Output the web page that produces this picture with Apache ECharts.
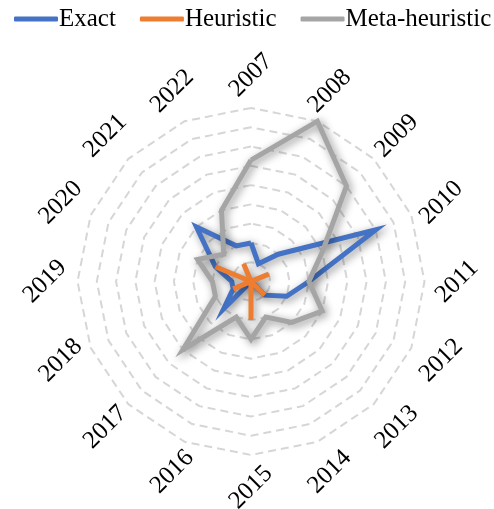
<!DOCTYPE html>
<html>
<head>
<meta charset="utf-8">
<script src="https://cdn.jsdelivr.net/npm/echarts@6/dist/echarts.min.js"></script>
<style>
html,body{margin:0;padding:0;background:#fff;}
#chart{width:494px;height:509px;}
</style>
</head>
<body>
<div id="chart"></div>
<script>
// ---- data ----
const years = ['2007','2008','2009','2010','2011','2012','2013','2014','2015','2016','2017','2018','2019','2020','2021','2022'];
const exact = [2,1,2,7,3,2,1,0,0,0,2,1,1,2,4,2];
const heuristic = [0,0,0,1,0,0,1,0,2,0,0,1,0,2,0,1];
const metaHeuristic = [6.3,9,7,4,3,4,3,2,3,2,5,2,2,3,2,4];
const seriesNames = ['Exact','Heuristic','Meta-heuristic'];
const axisMax = 9;
const axisSplits = 9;

// ---- layout / style ----
const colors = ['#4472C4','#ED7D31','#A5A5A5'];
const CX = 251, CY = 281.5, R = 173.5, LABEL_R = 206;
const FONT = '"Liberation Serif","Times New Roman",serif';

// ECharts radar lays indicators counter-clockwise; reorder so years run clockwise
const order = [0].concat(years.map((_, i) => i).slice(1).reverse());
const reorder = arr => order.map(i => arr[i]);

const seriesValues = [exact, heuristic, metaHeuristic];

const chart = echarts.init(document.getElementById('chart'), null, {renderer: 'canvas'});

const labels = years.map((y, i) => {
  const a = i * 2 * Math.PI / years.length;
  return {
    type: 'text',
    x: CX + LABEL_R * Math.sin(a),
    y: CY - LABEL_R * Math.cos(a),
    rotation: Math.PI / 4,
    style: {
      text: y,
      font: '25px ' + FONT,
      fill: '#000',
      align: 'center',
      verticalAlign: 'middle'
    },
    silent: true
  };
});

chart.setOption({
  backgroundColor: '#fff',
  animation: false,
  legend: {
    top: 6,
    left: 14,
    width: 700,
    padding: 0,
    itemWidth: 44,
    itemHeight: 5,
    itemGap: 24,
    icon: 'roundRect',
    data: seriesNames,
    textStyle: {
      fontFamily: FONT,
      fontSize: 25,
      color: '#000',
      lineHeight: 26,
      padding: [0, 0, 0, -4]
    }
  },
  radar: {
    center: [CX, CY],
    radius: R,
    startAngle: 90,
    shape: 'polygon',
    splitNumber: axisSplits,
    indicator: reorder(years).map(y => ({name: y, min: 0, max: axisMax})),
    axisName: {show: false},
    axisLine: {show: false},
    axisTick: {show: false},
    axisLabel: {show: false},
    splitArea: {show: false},
    splitLine: {
      lineStyle: {color: '#d6d6d6', width: 2, type: [8, 5]}
    }
  },
  graphic: labels,
  series: [{
    type: 'radar',
    symbol: 'none',
    data: seriesNames.map((n, k) => ({
      name: n,
      value: reorder(seriesValues[k]),
      itemStyle: {color: colors[k]},
      lineStyle: {
        color: colors[k],
        width: 5,
        join: 'miter',
        shadowColor: 'rgba(0,0,0,0.45)',
        shadowBlur: 8,
        shadowOffsetX: 2.5,
        shadowOffsetY: 2.5
      }
    }))
  }]
});
</script>
</body>
</html>
